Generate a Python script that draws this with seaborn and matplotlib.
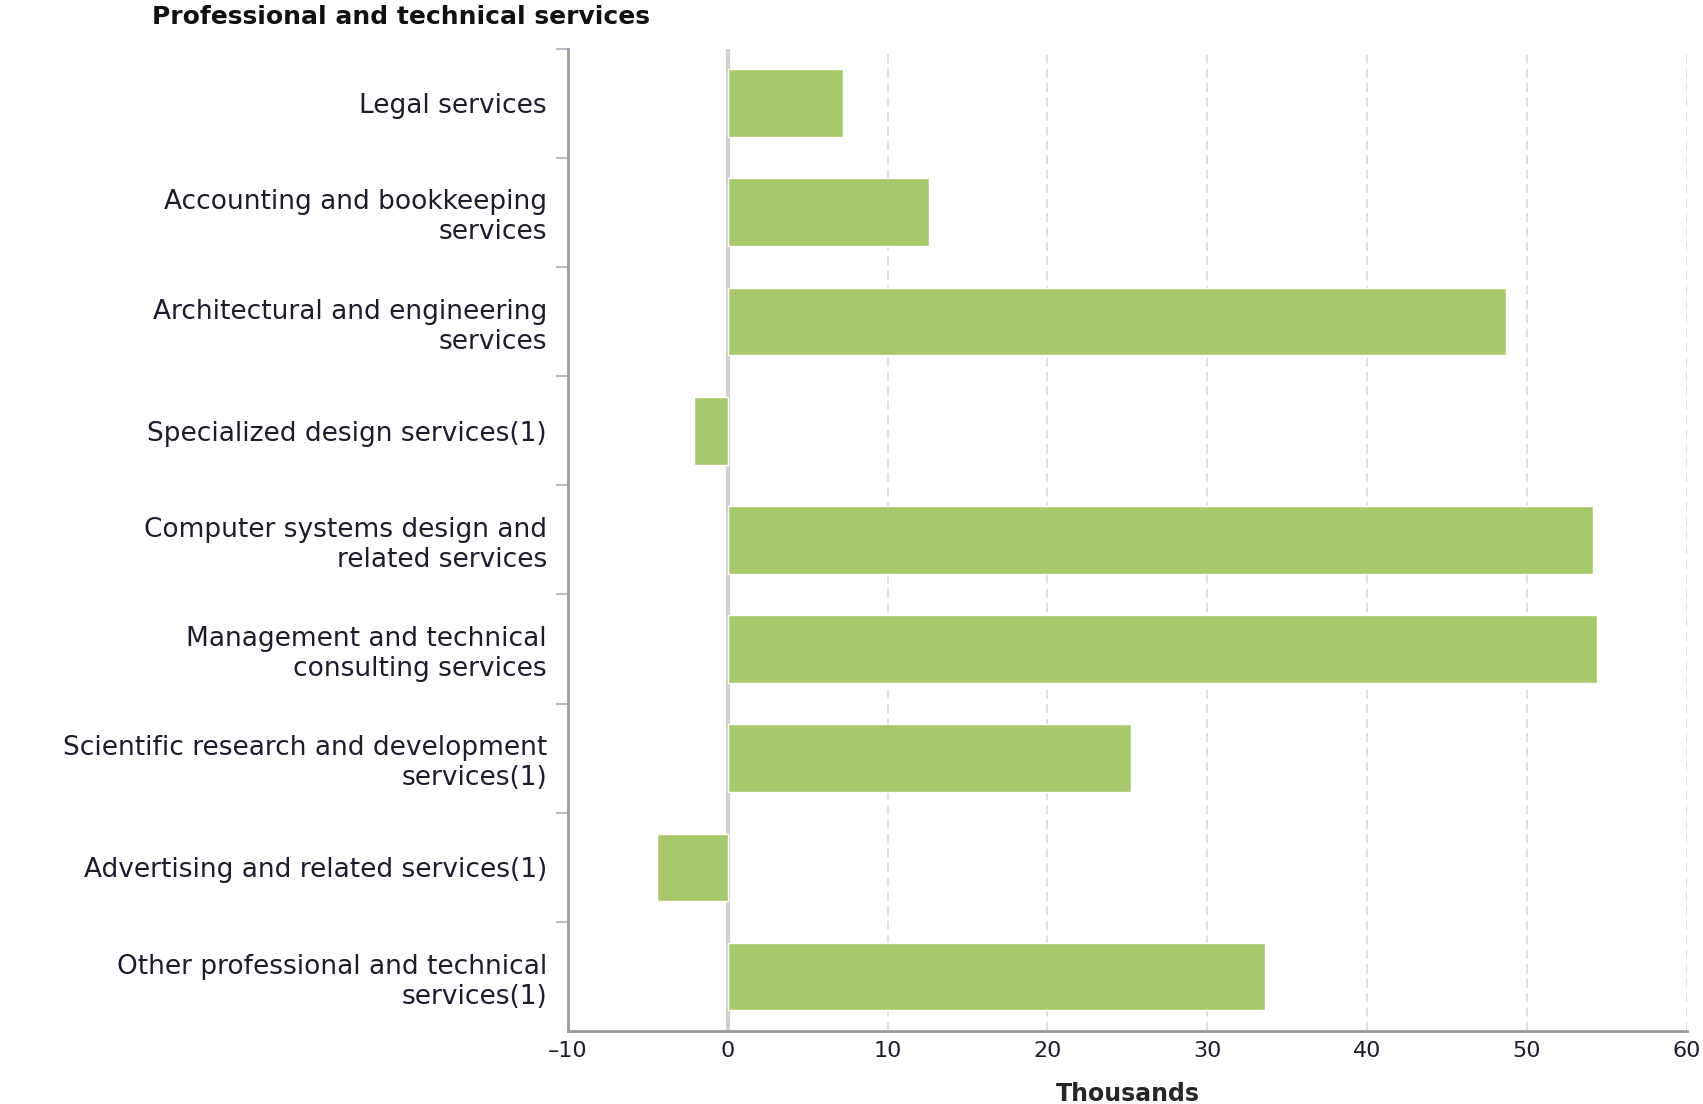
import numpy as np
import pandas as pd
import matplotlib
matplotlib.use("Agg")
import matplotlib.pyplot as plt
import seaborn as sns
from matplotlib.ticker import FixedLocator

# Data (thousands)
categories = [
    "Legal services",
    "Accounting and bookkeeping\nservices",
    "Architectural and engineering\nservices",
    "Specialized design services(1)",
    "Computer systems design and\nrelated services",
    "Management and technical\nconsulting services",
    "Scientific research and development\nservices(1)",
    "Advertising and related services(1)",
    "Other professional and technical\nservices(1)",
]
values = [7.2, 12.6, 48.7, -2.1, 54.1, 54.4, 25.2, -4.4, 33.6]
x_ticks = [-10, 0, 10, 20, 30, 40, 50, 60]

df = pd.DataFrame({"category": categories, "value": values})

sns.set_style("white")
plt.rcParams["font.family"] = ["DejaVu Sans"]

fig = plt.figure(figsize=(17.03, 11.04), dpi=100)
ax = fig.add_axes([0.3335, 0.066, 0.657, 0.89])

# grid and zero line behind the bars
for t in x_ticks[2:]:
    ax.axvline(t, color="#dcdcdc", linestyle=(0, (5, 3)), linewidth=1.3, zorder=0)
ax.axvline(0, color="#d0d0d0", linewidth=3, zorder=0)

sns.barplot(data=df, x="value", y="category", color="#a7c96b", saturation=1,
            width=0.62, orient="h", ax=ax, zorder=2)

ax.set_xlim(-10, 60)
ax.set_ylim(len(categories) - 0.5, -0.5)
ax.set_xticks(x_ticks)
ax.set_xticklabels(["\u201310" if t == -10 else str(t) for t in x_ticks])
ax.tick_params(axis="x", length=0, pad=7, labelsize=16, labelcolor="#1c1c2c")
ax.tick_params(axis="y", which="major", length=0, pad=15, labelsize=19,
               labelcolor="#1c1c2c")
ax.yaxis.set_minor_locator(FixedLocator(np.arange(-0.5, len(categories) - 0.5, 1.0)))
ax.tick_params(axis="y", which="minor", length=9, width=1.3, color="#a9b6c8", left=True)

ax.set_ylabel("")
ax.set_xlabel("Thousands", fontsize=17, fontweight="bold", labelpad=15)

for side in ["top", "right"]:
    ax.spines[side].set_visible(False)
for side in ["left", "bottom"]:
    ax.spines[side].set_color("#9a9a9a")
    ax.spines[side].set_linewidth(2)

fig.text(0.089, 0.985, "Professional and technical services", fontsize=18,
         fontweight="bold", ha="left", va="center", color="#111111")

fig.savefig("out.png", dpi=100)
